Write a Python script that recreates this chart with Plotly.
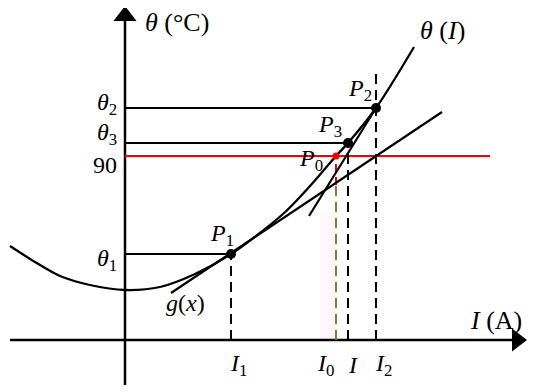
import plotly.graph_objects as go

# coordinates: origin at the axis crossing, 1 unit = 1 px
curve_I = [-115, -90, -65, -35, 0, 35, 70, 106, 158, 185, 211, 223, 251, 289]
curve_theta = [94, 78, 64, 55, 50, 53, 66, 86, 126, 154, 184, 197, 232, 293]

point_names = ["P1", "P0", "P3", "P2"]
point_I = [106, 211, 223, 251]
point_theta = [86, 184, 197, 232]

theta_90 = 184
red_end = 365

# tangent g(x) at P1 and tangent at P2
g_I = [46, 317]
g_theta = [47, 228]
t2_I = [184, 251]
t2_theta = [124, 232]

x_axis = [-115, 400]
y_axis = [-45, 332]
I2_top = 268
I0_red_low = 155

FONT = "Liberation Serif"
fs = 24

fig = go.Figure()

# faint pink band near I0
fig.add_shape(type="rect", x0=195, x1=point_I[1], y0=0, y1=127,
              fillcolor="rgba(255,190,225,0.12)", line_width=0, layer="below")

# axes
fig.add_trace(go.Scatter(x=x_axis, y=[0, 0], mode="lines", line=dict(color="black", width=2.5)))
fig.add_trace(go.Scatter(x=[0, 0], y=y_axis, mode="lines", line=dict(color="black", width=2.5)))
fig.add_trace(go.Scatter(x=[x_axis[1] - 8], y=[0], mode="markers", cliponaxis=False,
                         marker=dict(symbol="triangle-right", size=20, color="black")))
fig.add_trace(go.Scatter(x=[0], y=[y_axis[1] - 8], mode="markers", cliponaxis=False,
                         marker=dict(symbol="triangle-up", size=20, color="black")))

# horizontal level lines to theta1, theta2, theta3
for i in [0, 2, 3]:
    fig.add_trace(go.Scatter(x=[0, point_I[i]], y=[point_theta[i]] * 2, mode="lines",
                             line=dict(color="black", width=2)))

# red 90 line
fig.add_trace(go.Scatter(x=[0, red_end], y=[theta_90] * 2, mode="lines",
                         line=dict(color="#f00000", width=2.2)))

# dashed verticals
dash = dict(color="black", width=2, dash="10px,6px")
fig.add_trace(go.Scatter(x=[point_I[0]] * 2, y=[0, point_theta[0]], mode="lines", line=dash))
fig.add_trace(go.Scatter(x=[point_I[2]] * 2, y=[0, point_theta[2]], mode="lines", line=dash))
fig.add_trace(go.Scatter(x=[point_I[3]] * 2, y=[0, I2_top], mode="lines", line=dash))
fig.add_trace(go.Scatter(x=[point_I[1]] * 2, y=[0, I0_red_low], mode="lines",
                         line=dict(color="#8a7a2a", width=2, dash="10px,6px")))
fig.add_trace(go.Scatter(x=[point_I[1]] * 2, y=[I0_red_low, point_theta[1]], mode="lines",
                         line=dict(color="#f00000", width=2, dash="8px,5px")))

# curve theta(I) and tangents
fig.add_trace(go.Scatter(x=curve_I, y=curve_theta, mode="lines",
                         line=dict(color="black", width=2.3, shape="spline", smoothing=0.9)))
fig.add_trace(go.Scatter(x=g_I, y=g_theta, mode="lines", line=dict(color="black", width=2.2)))
fig.add_trace(go.Scatter(x=t2_I, y=t2_theta, mode="lines", line=dict(color="black", width=2.2)))

# points
fig.add_trace(go.Scatter(x=[point_I[0], point_I[2], point_I[3]],
                         y=[point_theta[0], point_theta[2], point_theta[3]],
                         mode="markers", marker=dict(color="black", size=10)))
fig.add_trace(go.Scatter(x=[point_I[1]], y=[point_theta[1]], mode="markers",
                         marker=dict(color="#f00000", size=7)))

def label(x, y, text, xanchor="center", size=fs):
    fig.add_annotation(x=x, y=y, text=text, showarrow=False, xanchor=xanchor, yanchor="middle",
                       font=dict(family=FONT, size=size, color="black"))

label(18, 318, "<i>θ</i> (°C)", "left", 26)
label(293, 310, "<i>θ</i> (<i>I</i>)", "left", 26)
label(343, 20, "<i>I</i> (A)", "left", 26)
label(-6, 236, "<i>θ</i><sub>2</sub>", "right")
label(-6, 206, "<i>θ</i><sub>3</sub>", "right")
label(-6, 175, "90", "right")
label(-6, 80, "<i>θ</i><sub>1</sub>", "right")
label(113, -25, "<i>I</i><sub>1</sub>")
label(200, -25, "<i>I</i><sub>0</sub>")
label(228, -25, "<i>I</i>")
label(258, -25, "<i>I</i><sub>2</sub>")
label(97, 105, "<i>P</i><sub>1</sub>")
label(235, 250, "<i>P</i><sub>2</sub>")
label(205, 214, "<i>P</i><sub>3</sub>")
label(186, 180, "<i>P</i><sub>0</sub>")
label(60, 37, "<i>g</i>(<i>x</i>)")

# the page body adds an 8px offset, so ranges are shifted to keep the origin at (125, 340)
fig.update_layout(width=550, height=392, margin=dict(l=0, r=0, t=0, b=0),
                  paper_bgcolor="white", plot_bgcolor="white", showlegend=False)
fig.update_xaxes(range=[-117, 433], visible=False)
fig.update_yaxes(range=[-60, 332], visible=False)

fig.write_html("out.html")
